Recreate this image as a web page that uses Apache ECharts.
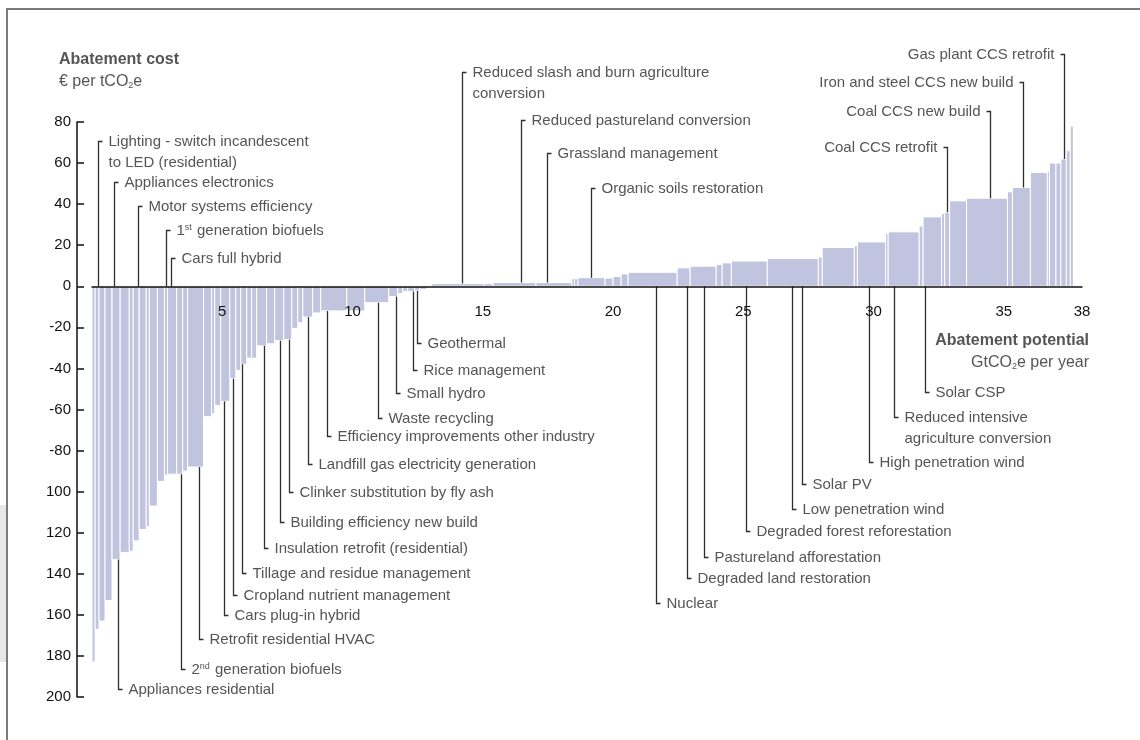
<!DOCTYPE html>
<html><head><meta charset="utf-8">
<script src="https://cdn.jsdelivr.net/npm/echarts@6/dist/echarts.min.js"></script>
<style>html,body{margin:0;padding:0;background:#fff}#c{width:1140px;height:740px}</style>
</head><body><div id="c"></div>
<script>
// ---- data (abatement potential widths in GtCO2e, costs in EUR/tCO2e) ----
const barWidths = [0.12,0.15,0.23,0.27,0.31,0.35,0.15,0.23,0.27,0.12,
  0.31,0.27,0.12,0.35,0.23,0.19,0.61,0.31,0.12,0.23,
  0.35,0.23,0.19,0.23,0.19,0.19,0.38,0.31,0.35,0.31,
  0.23,0.19,0.38,0.31,1.00,0.69,0.92,0.35,0.19,0.19,
  0.27,0.19,0.27,0.19,2.00,0.35,1.65,1.38,0.10,0.13,
  1.04,0.31,0.31,0.27,1.88,0.50,1.00,0.23,0.35,1.38,
  1.96,0.15,1.23,0.12,1.08,0.10,1.19,0.15,0.71,0.12,
  0.19,0.65,1.57,0.19,0.69,0.65,0.08,0.25,0.19,0.21,
  0.15,0.12];
const barCosts = [-183,-167,-163,-153,-133,-129.6,-129,-124,-118.5,-117,
  -107,-95,-92,-91.5,-91.5,-90,-88,-63.5,-62,-58,
  -56,-45,-41,-38,-35,-35,-29,-28,-26.5,-26,
  -20.5,-17.7,-15,-13,-12,-12,-8,-5,-3.5,-2.5,
  -2.5,-2.3,-1.5,0.3,1.3,1.3,1.8,1.8,3.7,3.7,
  4.2,4,4.8,6,6.8,9,9.8,10.6,11.4,12.3,
  13.5,14.3,18.9,19.8,21.6,25.7,26.5,29.4,33.8,35.4,
  36,41.6,42.9,46,48.1,55.4,56,60,60,62,
  66,78];

const labelNames = [
  'Lighting - switch incandescent\nto LED (residential)','Appliances electronics','Motor systems efficiency',
  '1{sup|st} generation biofuels','Cars full hybrid',
  'Appliances residential','2{sup|nd} generation biofuels','Retrofit residential HVAC','Cars plug-in hybrid',
  'Cropland nutrient management','Tillage and residue management','Insulation retrofit (residential)',
  'Building efficiency new build','Clinker substitution by fly ash','Landfill gas electricity generation',
  'Efficiency improvements other industry','Waste recycling','Small hydro','Rice management','Geothermal',
  'Reduced slash and burn agriculture\nconversion','Reduced pastureland conversion','Grassland management',
  'Organic soils restoration',
  'Gas plant CCS retrofit','Iron and steel CCS new build','Coal CCS new build','Coal CCS retrofit',
  'Nuclear','Degraded land restoration','Pastureland afforestation','Degraded forest reforestation',
  'Low penetration wind','Solar PV','High penetration wind','Reduced intensive\nagriculture conversion','Solar CSP'];
const labelX = [0.22,0.84,1.75,2.83,3.02,
  1.01,3.40,4.11,5.07,5.40,5.75,6.61,7.22,7.56,8.30,9.01,10.99,11.67,12.33,12.49,
  14.19,16.46,17.48,19.14,
  37.31,35.75,34.45,32.83,
  21.65,22.85,23.49,25.09,26.86,27.24,29.83,30.79,31.98];
const labelY = [70.9,50.9,39.2,27.3,14.0,
  -196.1,-186.3,-171.9,-160,-150.2,-139.7,-127.5,-115,-100.3,-86.5,-73,-64,-51.9,-40.8,-27.5,
  104.2,81,64.9,48.1,
  113.2,99.4,85.5,67.7,
  -154.1,-142,-131.6,-119,-108.4,-96.1,-85.4,-63.6,-51.6];
const labelSide = ['R','R','R','R','R',
  'R','R','R','R','R','R','R','R','R','R','R','R','R','R','R',
  'R','R','R','R',
  'L','L','L','L',
  'R','R','R','R','R','R','R','R','R'];
const xTickValues = [5,10,15,20,25,30,35,38];
const yMin = -200, yMax = 80, yStep = 20;

// ---- build series data ----
let acc = 0;
const barData = barWidths.map((w, i) => { const s = acc; acc += w; return [s, acc, barCosts[i]]; });
function costAt(x) { for (const b of barData) if (x >= b[0] && x < b[1]) return b[2]; return 0; }
const labelData = labelNames.map((n, i) => {
  const c = costAt(labelX[i]); const ly = labelY[i];
  const start = (Math.sign(c) === Math.sign(ly)) ? c : 0;
  return [labelX[i], start, ly, i];
});

const FONT = '"Liberation Sans", Arial, Helvetica, sans-serif';
const GRID_TOP = 122, GRID_BOTTOM = 43, H = 740;
const gridH = H - GRID_TOP - GRID_BOTTOM;
// distance from grid bottom up to the zero line, so the x axis sits on cost = 0
const zeroOffset = -gridH * (0 - yMin) / (yMax - yMin);

const chart = echarts.init(document.getElementById('c'), null, {renderer: 'canvas'});
chart.setOption({
  animation: false,
  backgroundColor: '#fff',
  grid: {left: 92, right: 58, top: GRID_TOP, bottom: GRID_BOTTOM, containLabel: false},
  xAxis: {
    type: 'value', min: 0, max: 38, z: 10, position: 'bottom', offset: zeroOffset,
    splitLine: {show: false},
    axisTick: {show: false},
    axisLine: {onZero: false, lineStyle: {color: '#111', width: 1.5}},
    axisLabel: {customValues: xTickValues, color: '#111', fontSize: 15, fontFamily: FONT, margin: 18}
  },
  yAxis: {
    type: 'value', min: yMin, max: yMax, interval: yStep, offset: 15, position: 'left',
    splitLine: {show: false},
    axisLine: {show: true, onZero: false, lineStyle: {color: '#111', width: 1.5}},
    axisTick: {show: true, inside: true, length: 7, lineStyle: {color: '#111', width: 1.5}},
    axisLabel: {color: '#111', fontSize: 15, fontFamily: FONT, margin: 6,
      formatter: v => (v <= -100 ? String(-v) : String(v))}
  },
  graphic: [
    {type: 'rect', shape: {x: 0, y: 505, width: 7, height: 157}, style: {fill: '#e7e7ea'}, silent: true},
    {type: 'line', shape: {x1: 7, y1: 9, x2: 1140, y2: 9}, style: {stroke: '#7a7a7a', lineWidth: 2}, silent: true},
    {type: 'line', shape: {x1: 7, y1: 8, x2: 7, y2: 740}, style: {stroke: '#7a7a7a', lineWidth: 2}, silent: true},
    {type: 'text', x: 59, y: 52, silent: true,
      style: {text: 'Abatement cost', fill: '#555', fontSize: 16, fontWeight: 'bold', fontFamily: FONT}},
    {type: 'text', x: 59, y: 74, silent: true,
      style: {text: '€ per tCO{sub|2}e', fill: '#555', fontSize: 16, fontFamily: FONT,
        rich: {sub: {fontSize: 9, fill: '#555', fontFamily: FONT, verticalAlign: 'bottom'}}}},
    {type: 'text', x: 1089, y: 333, silent: true,
      style: {text: 'Abatement potential', fill: '#555', fontSize: 16, fontWeight: 'bold', fontFamily: FONT, align: 'right'}},
    {type: 'text', x: 1089, y: 355, silent: true,
      style: {text: 'GtCO{sub|2}e per year', fill: '#555', fontSize: 16, fontFamily: FONT, align: 'right',
        rich: {sub: {fontSize: 9, fill: '#555', fontFamily: FONT, verticalAlign: 'bottom'}}}}
  ],
  series: [
    {
      type: 'custom', name: 'bars', silent: true, z: 2,
      data: barData,
      encode: {x: [0, 1], y: 2},
      renderItem: function (params, api) {
        const p0 = api.coord([api.value(0), 0]);
        const p1 = api.coord([api.value(1), api.value(2)]);
        return {type: 'rect',
          shape: {x: p0[0], y: Math.min(p0[1], p1[1]), width: p1[0] - p0[0], height: Math.abs(p1[1] - p0[1])},
          style: {fill: '#c1c4de', stroke: '#ffffff', lineWidth: 1}};
      }
    },
    {
      type: 'custom', name: 'labels', silent: true, z: 5, clip: false,
      data: labelData,
      encode: {x: 0, y: [1, 2]},
      renderItem: function (params, api) {
        const i = api.value(3);
        const p0 = api.coord([api.value(0), api.value(1)]);
        const p1 = api.coord([api.value(0), api.value(2)]);
        const dir = labelSide[i] === 'L' ? -1 : 1;
        const x = Math.round(p0[0]) + 0.5;
        const yy = Math.round(p1[1]) + 0.5;
        return {type: 'group', children: [
          {type: 'polyline', shape: {points: [[x, p0[1]], [x, yy], [x + dir * 4, yy]]},
            style: {stroke: '#2e2e2e', lineWidth: 1.3, fill: null}},
          {type: 'text', x: x + dir * 10, y: yy - 10.5,
            style: {text: labelNames[i], fill: '#555', fontSize: 15, fontFamily: FONT,
              align: dir > 0 ? 'left' : 'right', verticalAlign: 'top', lineHeight: 21,
              rich: {sup: {fontSize: 9, fill: '#555', fontFamily: FONT, verticalAlign: 'top', lineHeight: 12, padding: [3, 1, 0, 0]}}}}
        ]};
      }
    }
  ]
});
</script></body></html>
